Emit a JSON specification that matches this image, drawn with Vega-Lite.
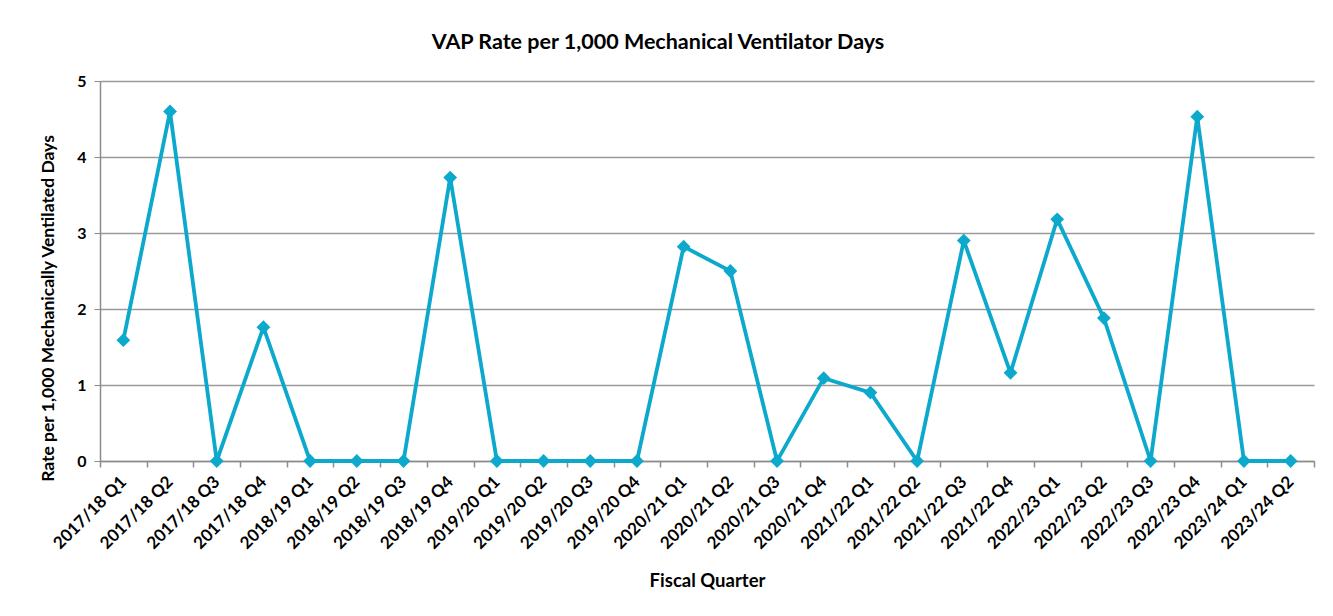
{
  "$schema": "https://vega.github.io/schema/vega-lite/v6.json",
  "width": 1214,
  "height": 380,
  "autosize": {"type": "none"},
  "padding": {"left": 100, "top": 81, "right": 19, "bottom": 155},
  "background": "white",
  "title": {
    "text": "VAP Rate per 1,000 Mechanical Ventilator Days",
    "anchor": "middle",
    "dx": -49,
    "offset": 20,
    "font": "Lato",
    "fontSize": 21.5,
    "fontWeight": "bold",
    "color": "black"
  },
  "config": {
    "view": {"stroke": null},
    "font": "Lato"
  },
  "data": {
    "values": [
      {"quarter": "2017/18 Q1", "rate": 1.59},
      {"quarter": "2017/18 Q2", "rate": 4.6},
      {"quarter": "2017/18 Q3", "rate": 0},
      {"quarter": "2017/18 Q4", "rate": 1.76},
      {"quarter": "2018/19 Q1", "rate": 0},
      {"quarter": "2018/19 Q2", "rate": 0},
      {"quarter": "2018/19 Q3", "rate": 0},
      {"quarter": "2018/19 Q4", "rate": 3.73},
      {"quarter": "2019/20 Q1", "rate": 0},
      {"quarter": "2019/20 Q2", "rate": 0},
      {"quarter": "2019/20 Q3", "rate": 0},
      {"quarter": "2019/20 Q4", "rate": 0},
      {"quarter": "2020/21 Q1", "rate": 2.82},
      {"quarter": "2020/21 Q2", "rate": 2.5},
      {"quarter": "2020/21 Q3", "rate": 0},
      {"quarter": "2020/21 Q4", "rate": 1.09},
      {"quarter": "2021/22 Q1", "rate": 0.9},
      {"quarter": "2021/22 Q2", "rate": 0},
      {"quarter": "2021/22 Q3", "rate": 2.9},
      {"quarter": "2021/22 Q4", "rate": 1.16},
      {"quarter": "2022/23 Q1", "rate": 3.18},
      {"quarter": "2022/23 Q2", "rate": 1.88},
      {"quarter": "2022/23 Q3", "rate": 0},
      {"quarter": "2022/23 Q4", "rate": 4.53},
      {"quarter": "2023/24 Q1", "rate": 0},
      {"quarter": "2023/24 Q2", "rate": 0}
    ]
  },
  "mark": {
    "type": "line",
    "color": "#0CA9CC",
    "strokeWidth": 3.8,
    "point": {"shape": "diamond", "size": 190, "filled": true, "color": "#0CA9CC", "opacity": 1}
  },
  "encoding": {
    "x": {
      "field": "quarter",
      "type": "ordinal",
      "sort": null,
      "scale": {"type": "band", "paddingInner": 0, "paddingOuter": 0},
      "axis": {
        "title": "Fiscal Quarter",
        "titleFont": "Lato",
        "titleFontSize": 18.5,
        "titleFontWeight": "bold",
        "titleColor": "black",
        "titleY": 119,
        "titleBaseline": "middle",
        "labelAngle": -45,
        "labelAlign": "right",
        "labelBaseline": "middle",
        "labelFont": "Lato",
        "labelFontSize": 17,
        "labelFontWeight": "bold",
        "labelColor": "black",
        "labelPadding": 12,
        "domainColor": "#8c8c8c",
        "domainWidth": 1.5,
        "ticks": true,
        "tickBand": "extent",
        "tickColor": "#8c8c8c",
        "tickWidth": 1.5,
        "tickSize": 6,
        "grid": false
      }
    },
    "y": {
      "field": "rate",
      "type": "quantitative",
      "scale": {"domain": [0, 5], "nice": false},
      "axis": {
        "title": "Rate per 1,000 Mechanically Ventilated Days",
        "titleFont": "Lato",
        "titleFontSize": 17.5,
        "titleFontWeight": "bold",
        "titleColor": "black",
        "titleX": -52,
        "titleY": 227,
        "titleAlign": "center",
        "titleBaseline": "middle",
        "values": [0, 1, 2, 3, 4, 5],
        "labelFont": "Lato",
        "labelFontSize": 16,
        "labelFontWeight": "bold",
        "labelColor": "black",
        "labelPadding": 8,
        "domainColor": "#8c8c8c",
        "domainWidth": 1.5,
        "tickColor": "#8c8c8c",
        "tickSize": 6,
        "gridColor": "#9a9a9a",
        "gridWidth": 1.5
      }
    }
  }
}
